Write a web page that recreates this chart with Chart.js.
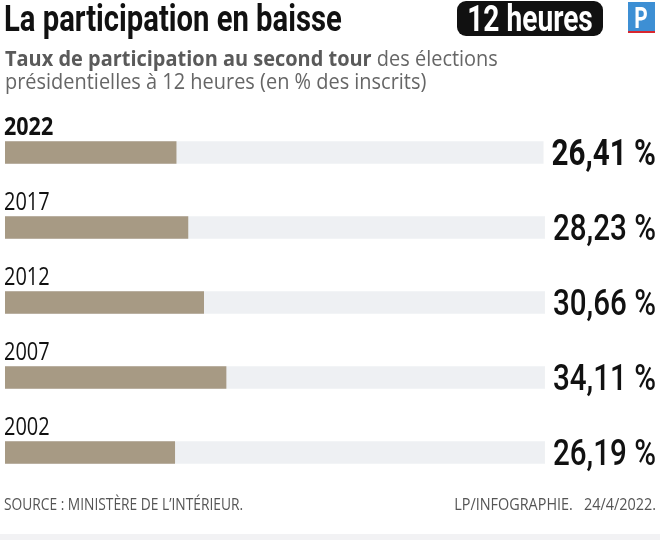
<!DOCTYPE html>
<html>
<head>
<meta charset="utf-8">
<script src="https://cdn.jsdelivr.net/npm/chart.js@4/dist/chart.umd.min.js"></script>
<style>
  html, body { margin: 0; padding: 0; background: #fff; }
  #wrap { position: relative; width: 660px; height: 540px; }
</style>
</head>
<body>
<div id="wrap"><canvas id="partChart" width="660" height="540"></canvas></div>
<script>
// données : taux de participation à 12h, second tour
const years = ["2022", "2017", "2012", "2007", "2002"];
const rates = [26.41, 28.23, 30.66, 34.11, 26.19];
const track = [100, 100, 100, 100, 100];
const rateLabels = ["26,41 %", "28,23 %", "30,66 %", "34,11 %", "26,19 %"];

// texte condensé : on écrase horizontalement une police normale
function drawText(ctx, text, x, y, font, color, sx, align) {
  ctx.save();
  ctx.font = font;
  ctx.fillStyle = color;
  ctx.textBaseline = 'alphabetic';
  const w = ctx.measureText(text).width * sx;
  let left = x;
  if (align === 'right') left = x - w;
  if (align === 'center') left = x - w / 2;
  ctx.translate(left, y);
  ctx.scale(sx, 1);
  ctx.textAlign = 'left';
  ctx.fillText(text, 0, 0);
  ctx.restore();
  return w;
}

function roundRect(ctx, x, y, w, h, r) {
  ctx.beginPath();
  ctx.moveTo(x + r, y);
  ctx.arcTo(x + w, y, x + w, y + h, r);
  ctx.arcTo(x + w, y + h, x, y + h, r);
  ctx.arcTo(x, y + h, x, y, r);
  ctx.arcTo(x, y, x + w, y, r);
  ctx.closePath();
}

const decorPlugin = {
  id: 'decor',
  beforeDraw(chart) {
    const ctx = chart.ctx;
    ctx.save();
    ctx.fillStyle = '#fff';
    ctx.fillRect(0, 0, chart.width, chart.height);
    ctx.restore();
  },
  afterDraw(chart) {
    const ctx = chart.ctx;
    const meta = chart.getDatasetMeta(1);

    // en-tête
    drawText(ctx, 'La participation en baisse', 4, 31, 'bold 37px Roboto', '#111', 0.79);

    ctx.save();
    ctx.fillStyle = '#111';
    roundRect(ctx, 457, 1, 146, 35, 9);
    ctx.fill();
    ctx.restore();
    drawText(ctx, '12 heures', 530, 31, 'bold 37px Roboto', '#fff', 0.76, 'center');

    ctx.save();
    ctx.fillStyle = '#3d8fd4';
    ctx.fillRect(628, 2, 27, 29);
    ctx.fillStyle = '#d8262f';
    ctx.fillRect(628, 31, 27, 2);
    ctx.restore();
    drawText(ctx, 'P', 641, 28, 'bold 29px Roboto', '#fff', 0.72, 'center');

    const w1 = drawText(ctx, 'Taux de participation au second tour', 5, 66, 'bold 21px "Open Sans"', '#5a5a5a', 0.95);
    drawText(ctx, ' des élections', 5 + w1, 66, '21px "Open Sans"', '#666', 0.95);
    drawText(ctx, 'présidentielles à 12 heures (en % des inscrits)', 5, 89, '21px "Open Sans"', '#666', 0.95);

    // années et valeurs
    meta.data.forEach((bar, i) => {
      const cy = bar.y;
      const first = i === 0;
      drawText(ctx, years[i], 4, cy - 18, (first ? 'bold ' : '') + '25px "Open Sans"', '#111', first ? 0.86 : 0.8);
      const font = (first ? 'bold ' : '500 ') + '37px Roboto';
      ctx.font = font;
      const tw = ctx.measureText(rateLabels[i]).width * 0.8;
      ctx.save();
      ctx.fillStyle = '#fff';
      ctx.fillRect(656 - tw - 8, cy - 20, tw + 12, 40);
      ctx.restore();
      drawText(ctx, rateLabels[i], 656, cy + 12, font, '#111', 0.8, 'right');
    });

    // pied
    drawText(ctx, 'SOURCE : MINISTÈRE DE L\u2019INTÉRIEUR.', 4, 510, '16px "Open Sans"', '#555', 0.86);
    drawText(ctx, 'LP/INFOGRAPHIE.   24/4/2022.', 656, 510, '16px "Open Sans"', '#555', 0.9, 'right');
    ctx.save();
    ctx.fillStyle = '#f2f2f4';
    ctx.fillRect(0, 534, 660, 6);
    ctx.restore();
  }
};

new Chart(document.getElementById('partChart'), {
  type: 'bar',
  data: {
    labels: years,
    datasets: [
      {
        label: 'fond',
        data: track,
        backgroundColor: '#eef0f3',
        barThickness: 22,
        grouped: false,
        order: 2
      },
      {
        label: 'Taux de participation',
        data: rates,
        backgroundColor: '#a79a84',
        barThickness: 22,
        grouped: false,
        order: 1
      }
    ]
  },
  options: {
    indexAxis: 'y',
    responsive: false,
    animation: false,
    events: [],
    layout: { padding: { top: 115, bottom: 50, left: 5, right: 7 } },
    plugins: { legend: { display: false }, tooltip: { enabled: false } },
    scales: {
      x: { min: 0, max: 100, display: false },
      y: { display: false }
    }
  },
  plugins: [decorPlugin]
});
</script>
</body>
</html>
